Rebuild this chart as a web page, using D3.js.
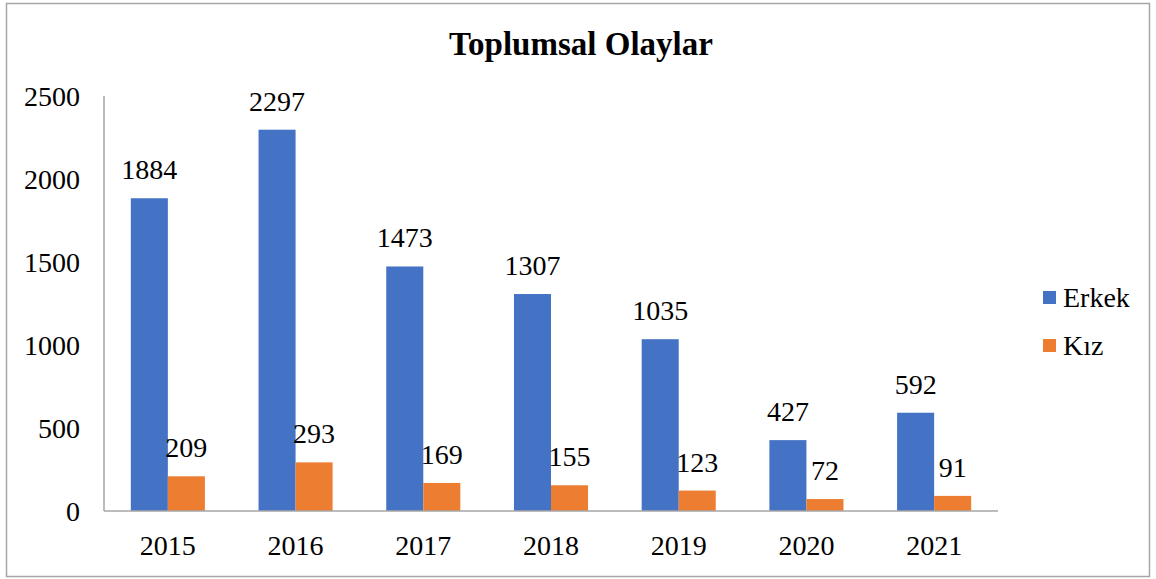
<!DOCTYPE html>
<html>
<head>
<meta charset="utf-8">
<script src="https://cdn.jsdelivr.net/npm/d3@7"></script>
<style>
  body { margin: 0; background: #fff; }
  text { font-family: "Liberation Serif", "Times New Roman", serif; fill: #000; }
</style>
</head>
<body>
<div id="chart"></div>
<script>
var years = ["2015", "2016", "2017", "2018", "2019", "2020", "2021"];
var erkek = [1884, 2297, 1473, 1307, 1035, 427, 592];
var kiz = [209, 293, 169, 155, 123, 72, 91];
var seriesNames = ["Erkek", "Kız"];
var seriesColors = ["#4472C4", "#ED7D31"];
var yTicks = [0, 500, 1000, 1500, 2000, 2500];

var width = 1156, height = 579;
var margin = { top: 96, right: 158, bottom: 68, left: 104 };
var plotW = width - margin.left - margin.right,
    plotH = height - margin.top - margin.bottom;

var svg = d3.select("#chart")
    .append("svg")
    .attr("width", width)
    .attr("height", height);

// outer frame
svg.append("rect")
    .attr("x", 6.5)
    .attr("y", 3.5)
    .attr("width", 1143)
    .attr("height", 573)
    .attr("fill", "none")
    .attr("stroke", "#a6a6a6")
    .attr("stroke-width", 1.5);

svg.append("text")
    .attr("x", 581)
    .attr("y", 55)
    .attr("text-anchor", "middle")
    .attr("font-weight", "bold")
    .style("font-size", "33px")
    .text("Toplumsal Olaylar");

var g = svg.append("g")
    .attr("transform", "translate(" + margin.left + "," + margin.top + ")");

var x = d3.scaleBand()
    .domain(years)
    .range([0, plotW]);

var inner = d3.scaleBand()
    .domain(seriesNames)
    .range([0, x.bandwidth() * 0.58])
    .padding(0);

var y = d3.scaleLinear()
    .domain([0, 2500])
    .range([plotH, 0]);

var data = years.map(function (yr, i) {
    return { year: yr, values: [erkek[i], kiz[i]] };
});

var groups = g.selectAll(".grp")
    .data(data)
    .enter().append("g")
    .attr("transform", function (d) {
        return "translate(" + (x(d.year) + x.bandwidth() * 0.21) + ",0)";
    });

groups.selectAll("rect")
    .data(function (d) { return d.values.map(function (v, j) { return { s: seriesNames[j], v: v, c: seriesColors[j] }; }); })
    .enter().append("rect")
    .attr("x", function (d) { return inner(d.s); })
    .attr("y", function (d) { return y(d.v); })
    .attr("width", inner.bandwidth())
    .attr("height", function (d) { return plotH - y(d.v); })
    .attr("fill", function (d) { return d.c; });

groups.selectAll(".lbl")
    .data(function (d) { return d.values.map(function (v, j) { return { s: seriesNames[j], v: v }; }); })
    .enter().append("text")
    .attr("class", "lbl")
    .attr("x", function (d) { return inner(d.s) + inner.bandwidth() / 2; })
    .attr("y", function (d) { return y(d.v) - 19; })
    .attr("text-anchor", "middle")
    .style("font-size", "28px")
    .text(function (d) { return d.v; });

// axes
g.append("line")
    .attr("x1", 0).attr("x2", 0)
    .attr("y1", 0).attr("y2", plotH)
    .attr("stroke", "#a6a6a6").attr("stroke-width", 1.5);

g.append("line")
    .attr("x1", 0).attr("x2", plotW)
    .attr("y1", plotH).attr("y2", plotH)
    .attr("stroke", "#a6a6a6").attr("stroke-width", 1.5);

g.selectAll(".ytick")
    .data(yTicks)
    .enter().append("text")
    .attr("x", -24)
    .attr("y", function (d) { return y(d) + 10; })
    .attr("text-anchor", "end")
    .style("font-size", "28px")
    .text(function (d) { return d; });

g.selectAll(".xtick")
    .data(years)
    .enter().append("text")
    .attr("x", function (d) { return x(d) + x.bandwidth() / 2; })
    .attr("y", plotH + 44)
    .attr("text-anchor", "middle")
    .style("font-size", "28px")
    .text(function (d) { return d; });

// legend
var legend = svg.append("g")
    .attr("transform", "translate(1043,291)");

seriesNames.forEach(function (name, i) {
    legend.append("rect")
        .attr("x", 0)
        .attr("y", i * 48)
        .attr("width", 13)
        .attr("height", 13)
        .attr("fill", seriesColors[i]);
    legend.append("text")
        .attr("x", 20)
        .attr("y", i * 48 + 16)
        .style("font-size", "28px")
        .text(name);
});
</script>
</body>
</html>
